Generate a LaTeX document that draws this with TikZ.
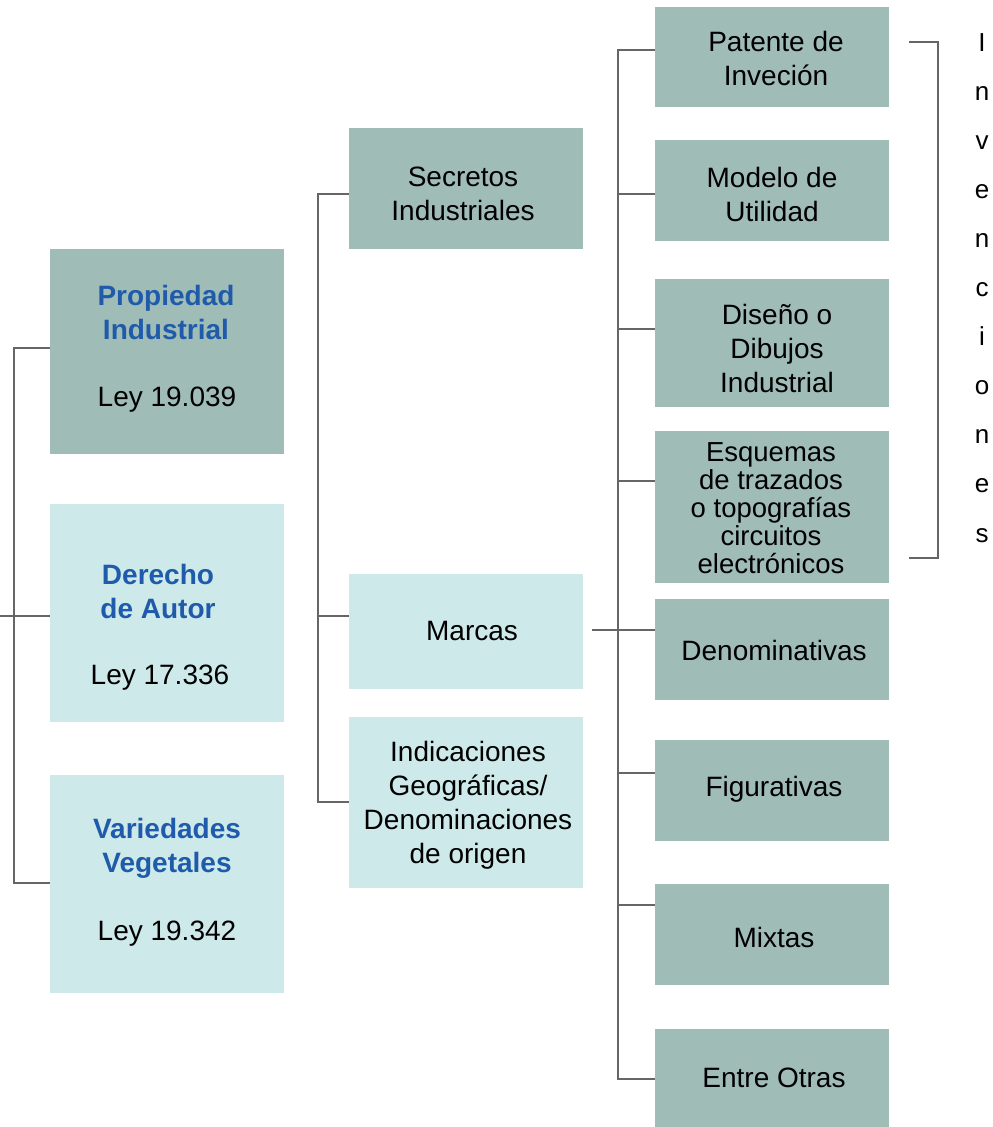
\documentclass[tikz,border=0pt]{standalone}
\usepackage{fontspec}
\setmainfont{Liberation Sans}
\definecolor{darkbox}{HTML}{A0BCB6}
\definecolor{lightbox}{HTML}{CDE9E9}
\definecolor{titleblue}{HTML}{1F5BAA}
\definecolor{linegray}{HTML}{666666}
\tikzset{
  boxd/.style={fill=darkbox, draw=none, inner sep=0pt},
  boxl/.style={fill=lightbox, draw=none, inner sep=0pt},
  txt/.style={align=center, inner sep=0pt, font=\fontsize{28}{34}\selectfont},
  ttl/.style={txt, text=titleblue, font=\fontsize{28}{34}\selectfont\bfseries},
  conn/.style={draw=linegray, line width=2.8pt},
}
\begin{document}
\begin{tikzpicture}[x=1pt,y=-1pt]
\useasboundingbox (0,0) rectangle (993,1127);
% left column boxes
\node[boxd, minimum width=234pt, minimum height=205pt] (pi) at (167,351.5) {};
\node[boxl, minimum width=234pt, minimum height=218pt] (da) at (167,613) {};
\node[boxl, minimum width=234pt, minimum height=218pt] (vv) at (167,884) {};
\node[ttl] (piT) at (166,312) {Propiedad\\ Industrial};
\node[txt] (piL) at (167,400) {Ley 19.039};
\node[ttl] (daT) at (158,591) {Derecho\\ de Autor};
\node[txt] (daL) at (160,678) {Ley 17.336};
\node[ttl] (vvT) at (167,848) {Variedades\\ Vegetales};
\node[txt] (vvL) at (167,934) {Ley 19.342};
% middle column
\node[boxd, minimum width=234pt, minimum height=121pt] (si) at (466,188.5) {};
\node[boxl, minimum width=234pt, minimum height=115pt] (ma) at (466,631.5) {};
\node[boxl, minimum width=234pt, minimum height=171pt] (ig) at (466,802.5) {};
\node[txt] (siT) at (463,194) {Secretos\\ Industriales};
\node[txt] (maT) at (472,631) {Marcas};
\node[txt] (igT) at (468,805) {Indicaciones\\ Geográficas/\\ Denominaciones\\ de origen};
% right column
\node[boxd, minimum width=234pt, minimum height=100pt] (pa) at (772,57) {};
\node[boxd, minimum width=234pt, minimum height=101pt] (mu) at (772,190.5) {};
\node[boxd, minimum width=234pt, minimum height=128pt] (di) at (772,343) {};
\node[boxd, minimum width=234pt, minimum height=152pt] (es) at (772,507) {};
\node[boxd, minimum width=234pt, minimum height=101pt] (de) at (772,649.5) {};
\node[boxd, minimum width=234pt, minimum height=101pt] (fi) at (772,790.5) {};
\node[boxd, minimum width=234pt, minimum height=101pt] (mi) at (772,934.5) {};
\node[boxd, minimum width=234pt, minimum height=98pt] (eo) at (772,1078) {};
\node[txt] (paT) at (776,58) {Patente de\\ Inveción};
\node[txt] (muT) at (772,194) {Modelo de\\ Utilidad};
\node[txt] (diT) at (777,348) {Diseño o\\ Dibujos\\ Industrial};
\node[txt, font=\fontsize{27.5}{28}\selectfont] (esT) at (771,508) {Esquemas\\ de trazados\\ o topografías\\ circuitos\\ electrónicos};
\node[txt] (deT) at (774,650) {Denominativas};
\node[txt] (fiT) at (774,789) {Figurativas};
\node[txt] (miT) at (774,937) {Mixtas};
\node[txt] (eoT) at (774,1078) {Entre Otras};
% vertical word
\foreach \l [count=\i] in {I,n,v,e,n,c,i,o,n,e,s}
  \node[txt, anchor=base, font=\fontsize{26}{30}\selectfont] (inv\i) at (982,{51+49.1*(\i-1)}) {\l};
% left spine
\coordinate (a1) at (14,348);
\coordinate (a3) at (14,883);
\coordinate (a0) at (0,616);
\draw[conn] (pi.west |- a1) -- (a1) -- (a3) -- (vv.west |- a3);
\draw[conn] (a0) -- (da.west |- a0);
% middle spine
\coordinate (b1) at (318,194);
\coordinate (b2) at (318,616);
\coordinate (b3) at (318,802);
\draw[conn] (si.west |- b1) -- (b1) -- (b3) -- (ig.west |- b3);
\draw[conn] (b2) -- (ma.west |- b2);
% right spine
\coordinate (c1) at (618,50);
\coordinate (c2) at (618,194);
\coordinate (c3) at (618,329);
\coordinate (c4) at (618,481);
\coordinate (c5) at (618,630);
\coordinate (c6) at (618,773);
\coordinate (c7) at (618,905);
\coordinate (c8) at (618,1079);
\coordinate (m0) at (592,630);
\draw[conn] (pa.west |- c1) -- (c1) -- (c8) -- (eo.west |- c8);
\draw[conn] (c2) -- (mu.west |- c2);
\draw[conn] (c3) -- (di.west |- c3);
\draw[conn] (c4) -- (es.west |- c4);
\draw[conn] (m0) -- (de.west |- m0);
\draw[conn] (c6) -- (fi.west |- c6);
\draw[conn] (c7) -- (mi.west |- c7);
% bracket
\coordinate (k1) at (909,42);
\coordinate (k2) at (938,42);
\coordinate (k3) at (938,558);
\coordinate (k4) at (909,558);
\draw[conn] (k1) -- (k2) -- (k3) -- (k4);
\end{tikzpicture}
\end{document}
